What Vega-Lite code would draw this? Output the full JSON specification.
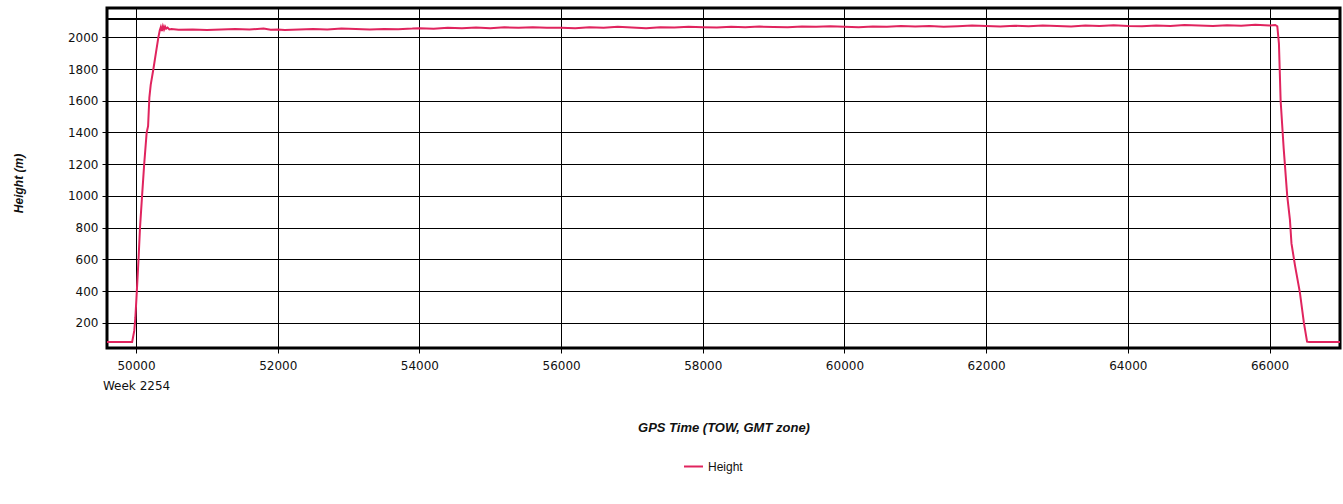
{
  "$schema": "https://vega.github.io/schema/vega-lite/v6.json",
  "autosize": "none",
  "width": 1233,
  "height": 340,
  "padding": {"left": 107, "top": 8, "right": 3, "bottom": 156},
  "background": "white",
  "config": {
    "view": {"stroke": "black", "strokeWidth": 3},
    "axis": {"labelFont": "DejaVu Sans", "labelFontSize": 12, "labelColor": "#111", "titleFont": "Liberation Sans", "titleColor": "#111", "grid": true, "gridColor": "black", "gridOpacity": 1, "gridWidth": 1, "tickColor": "black", "tickSize": 5, "domain": false, "labelOverlap": false}
  },
  "data": {"values": [
    {"t": 49590, "h": 78}, {"t": 49700, "h": 78}, {"t": 49800, "h": 78}, {"t": 49900, "h": 78}, {"t": 49945, "h": 78},
    {"t": 49975, "h": 150}, {"t": 49990, "h": 230}, {"t": 50010, "h": 390}, {"t": 50035, "h": 600}, {"t": 50056, "h": 800},
    {"t": 50085, "h": 1000}, {"t": 50115, "h": 1200}, {"t": 50150, "h": 1400}, {"t": 50170, "h": 1440}, {"t": 50188, "h": 1620},
    {"t": 50207, "h": 1700}, {"t": 50245, "h": 1800}, {"t": 50280, "h": 1900}, {"t": 50315, "h": 2000}, {"t": 50335, "h": 2045},
    {"t": 50350, "h": 2065}, {"t": 50365, "h": 2040}, {"t": 50380, "h": 2070}, {"t": 50395, "h": 2050}, {"t": 50410, "h": 2068},
    {"t": 50425, "h": 2055}, {"t": 50445, "h": 2062}, {"t": 50470, "h": 2050}, {"t": 50500, "h": 2052},
    {"t": 50600, "h": 2048}, {"t": 50800, "h": 2050}, {"t": 51000, "h": 2047}, {"t": 51200, "h": 2050}, {"t": 51400, "h": 2052},
    {"t": 51600, "h": 2049}, {"t": 51800, "h": 2055}, {"t": 51900, "h": 2048}, {"t": 52000, "h": 2050}, {"t": 52100, "h": 2046},
    {"t": 52300, "h": 2050}, {"t": 52500, "h": 2052}, {"t": 52700, "h": 2050}, {"t": 52900, "h": 2055}, {"t": 53100, "h": 2053},
    {"t": 53300, "h": 2049}, {"t": 53500, "h": 2052}, {"t": 53700, "h": 2051}, {"t": 53900, "h": 2055}, {"t": 54000, "h": 2058},
    {"t": 54200, "h": 2054}, {"t": 54400, "h": 2060}, {"t": 54600, "h": 2057}, {"t": 54800, "h": 2062}, {"t": 55000, "h": 2058},
    {"t": 55200, "h": 2063}, {"t": 55400, "h": 2060}, {"t": 55600, "h": 2064}, {"t": 55800, "h": 2061}, {"t": 56000, "h": 2060},
    {"t": 56200, "h": 2058}, {"t": 56400, "h": 2063}, {"t": 56600, "h": 2060}, {"t": 56800, "h": 2066}, {"t": 57000, "h": 2062},
    {"t": 57200, "h": 2058}, {"t": 57400, "h": 2064}, {"t": 57600, "h": 2062}, {"t": 57800, "h": 2067}, {"t": 58000, "h": 2064},
    {"t": 58200, "h": 2062}, {"t": 58400, "h": 2066}, {"t": 58600, "h": 2063}, {"t": 58800, "h": 2068}, {"t": 59000, "h": 2065},
    {"t": 59200, "h": 2063}, {"t": 59400, "h": 2069}, {"t": 59600, "h": 2066}, {"t": 59800, "h": 2070}, {"t": 60000, "h": 2067},
    {"t": 60200, "h": 2064}, {"t": 60400, "h": 2068}, {"t": 60600, "h": 2066}, {"t": 60800, "h": 2071}, {"t": 61000, "h": 2068},
    {"t": 61200, "h": 2072}, {"t": 61400, "h": 2066}, {"t": 61600, "h": 2070}, {"t": 61800, "h": 2074}, {"t": 62000, "h": 2071},
    {"t": 62200, "h": 2068}, {"t": 62400, "h": 2073}, {"t": 62600, "h": 2070}, {"t": 62800, "h": 2075}, {"t": 63000, "h": 2072},
    {"t": 63200, "h": 2069}, {"t": 63400, "h": 2074}, {"t": 63600, "h": 2071}, {"t": 63800, "h": 2076}, {"t": 64000, "h": 2072},
    {"t": 64200, "h": 2070}, {"t": 64400, "h": 2075}, {"t": 64600, "h": 2072}, {"t": 64800, "h": 2078}, {"t": 65000, "h": 2074},
    {"t": 65200, "h": 2071}, {"t": 65400, "h": 2076}, {"t": 65600, "h": 2073}, {"t": 65800, "h": 2079}, {"t": 66000, "h": 2075},
    {"t": 66080, "h": 2078}, {"t": 66110, "h": 2070}, {"t": 66133, "h": 1960}, {"t": 66157, "h": 1600}, {"t": 66200, "h": 1300},
    {"t": 66250, "h": 1000}, {"t": 66288, "h": 850}, {"t": 66310, "h": 700}, {"t": 66360, "h": 560}, {"t": 66429, "h": 390},
    {"t": 66485, "h": 200}, {"t": 66530, "h": 80}, {"t": 66560, "h": 78}, {"t": 66700, "h": 78}, {"t": 66995, "h": 78}
  ]},
  "layer": [
    {
      "mark": {"type": "line", "strokeWidth": 2, "clip": true},
      "encoding": {
        "x": {
          "field": "t", "type": "quantitative",
          "scale": {"domain": [49590, 66995], "nice": false, "zero": false},
          "axis": {
            "title": "GPS Time (TOW, GMT zone)", "grid": true,
            "titleFontSize": 13, "titleFontWeight": "bold", "titleFontStyle": "italic",
            "titleY": 79, "titleBaseline": "middle",
            "values": [50000, 52000, 54000, 56000, 58000, 60000, 62000, 64000, 66000], "tickCount": 30,
            "format": "d", "labelPadding": 7, "labelLineHeight": 20,
            "labelExpr": "datum.value == 50000 ? [datum.label, 'Week 2254'] : datum.label"
          }
        },
        "y": {
          "field": "h", "type": "quantitative",
          "scale": {"domain": [40.5, 2185], "nice": false, "zero": false},
          "axis": {
            "title": "Height (m)", "grid": true,
            "titleFontSize": 12, "titleFontWeight": "bold", "titleFontStyle": "italic",
            "titleX": -89, "titleY": 175, "titleAlign": "center", "titleBaseline": "middle", "titleAngle": -90,
            "values": [200, 400, 600, 800, 1000, 1200, 1400, 1600, 1800, 2000], "tickCount": 30,
            "format": "d", "labelPadding": 4
          }
        },
        "color": {
          "datum": "Height",
          "scale": {"range": ["#e0245e"]},
          "legend": {
            "title": null, "orient": "none", "legendX": 576, "legendY": 448,
            "symbolType": "stroke", "symbolSize": 361, "symbolStrokeWidth": 2,
            "labelFont": "Liberation Sans", "labelFontSize": 12, "labelColor": "#111"
          }
        }
      }
    },
    {
      "mark": {"type": "rule", "color": "black", "strokeWidth": 1.5},
      "encoding": {"y": {"datum": 2115, "type": "quantitative"}}
    }
  ]
}
